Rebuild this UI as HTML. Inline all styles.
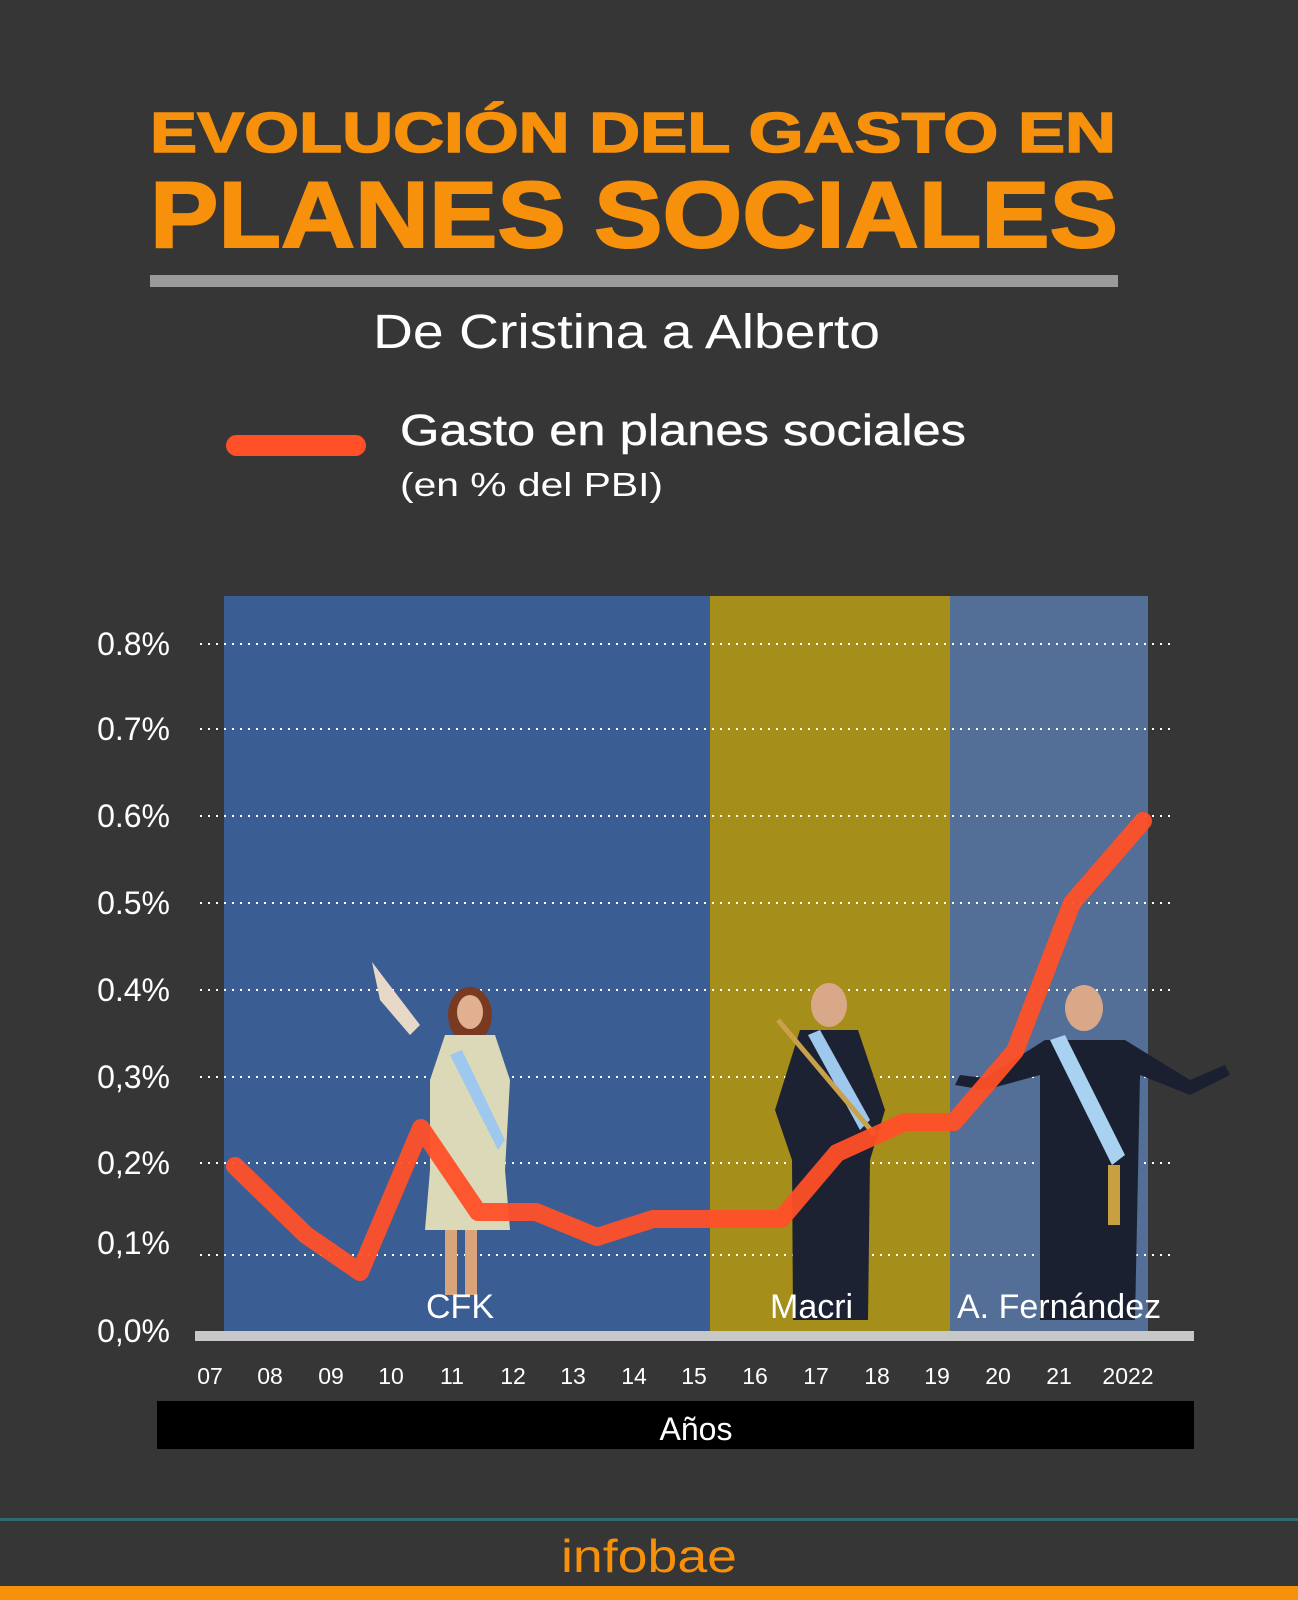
<!DOCTYPE html>
<html><head><meta charset="utf-8"><style>
html,body{margin:0;padding:0;background:#363636;}
svg{display:block;}
text{font-family:"Liberation Sans",sans-serif;}
</style></head><body>
<svg width="1298" height="1600" viewBox="0 0 1298 1600" xmlns="http://www.w3.org/2000/svg">
<rect width="1298" height="1600" fill="#363636"/>
<!-- Title -->
<text x="150" y="152" font-size="57" font-weight="bold" fill="#f7900a" stroke="#f7900a" stroke-width="1.5" textLength="966" lengthAdjust="spacingAndGlyphs">EVOLUCIÓN DEL GASTO EN</text>
<text x="150" y="247" font-size="94" font-weight="bold" fill="#f7900a" stroke="#f7900a" stroke-width="2" textLength="968" lengthAdjust="spacingAndGlyphs">PLANES SOCIALES</text>
<rect x="150" y="275" width="968" height="12" fill="#9a9a9a"/>
<text x="373" y="348" font-size="48" fill="#fff" textLength="507" lengthAdjust="spacingAndGlyphs">De Cristina a Alberto</text>
<!-- Legend -->
<rect x="226" y="435" width="140" height="21" rx="10.5" fill="#ff5028"/>
<text x="400" y="445" font-size="44" fill="#fff" stroke="#fff" stroke-width="0.4" textLength="566" lengthAdjust="spacingAndGlyphs">Gasto en planes sociales</text>
<text x="400" y="496" font-size="33" fill="#fff" textLength="263" lengthAdjust="spacingAndGlyphs">(en % del PBI)</text>
<!-- Background bands -->
<rect x="224" y="596" width="486" height="739" fill="#3a5e93"/>
<rect x="710" y="596" width="240" height="739" fill="#a68e1a"/>
<rect x="950" y="596" width="198" height="739" fill="#536e97"/>
<!-- grid -->
<g stroke="#fff" stroke-width="2" stroke-dasharray="2,6">
<line x1="200" y1="644" x2="1176" y2="644"/>
<line x1="200" y1="729" x2="1176" y2="729"/>
<line x1="200" y1="816" x2="1176" y2="816"/>
<line x1="200" y1="903" x2="1176" y2="903"/>
<line x1="200" y1="990" x2="1176" y2="990"/>
<line x1="200" y1="1077" x2="1176" y2="1077"/>
<line x1="200" y1="1163" x2="1176" y2="1163"/>
<line x1="200" y1="1255" x2="1176" y2="1255"/>
</g>
<!-- y labels -->
<g font-size="32" fill="#fff" text-anchor="end">
<text x="170" y="655">0.8%</text>
<text x="170" y="740">0.7%</text>
<text x="170" y="827">0.6%</text>
<text x="170" y="914">0.5%</text>
<text x="170" y="1001">0.4%</text>
<text x="170" y="1088">0,3%</text>
<text x="170" y="1174">0,2%</text>
<text x="170" y="1254">0,1%</text>
<text x="170" y="1342">0,0%</text>
</g>
<!-- figures (simplified) -->
<g>
<path d="M372 962 L380 1000 L410 1035 L420 1025 Z" fill="#e8d8c8"/>
<ellipse cx="470" cy="1015" rx="22" ry="28" fill="#7a3a22"/>
<ellipse cx="470" cy="1012" rx="13" ry="17" fill="#e0b090"/>
<path d="M445 1035 L495 1035 L510 1080 L505 1170 L510 1230 L425 1230 L430 1170 L430 1080 Z" fill="#dcd9b8"/>
<path d="M450 1055 L462 1050 L505 1140 L498 1150 Z" fill="#9ec8ee"/>
<rect x="445" y="1230" width="12" height="65" fill="#d9a47a"/>
<rect x="465" y="1230" width="12" height="65" fill="#d9a47a"/>
<ellipse cx="829" cy="1005" rx="18" ry="22" fill="#d8a888"/>
<path d="M800 1030 L858 1030 L885 1110 L870 1160 L868 1320 L793 1320 L792 1160 L775 1110 Z" fill="#1d2233"/>
<path d="M808 1035 L820 1030 L870 1120 L860 1130 Z" fill="#9ec8ee"/>
<line x1="778" y1="1020" x2="875" y2="1135" stroke="#c9a14a" stroke-width="5"/>
<ellipse cx="1084" cy="1008" rx="19" ry="23" fill="#d8a888"/>
<path d="M1045 1040 L1125 1040 L1190 1080 L1225 1065 L1230 1075 L1190 1095 L1140 1075 L1135 1320 L1040 1320 L1040 1075 L985 1090 L955 1085 L960 1075 L985 1078 Z" fill="#1b2030"/>
<path d="M1050 1040 L1065 1035 L1125 1155 L1112 1165 Z" fill="#a9d1f0"/>
<rect x="1108" y="1165" width="12" height="60" fill="#c9a040"/>
</g>
<!-- data line -->
<polyline points="235,1166 306,1235 360,1272 421,1128 478,1212 536,1212 597,1237 653,1219 714,1219 781,1219 837,1153 905,1122 954,1122 1015,1051 1072,903 1143,821" fill="none" stroke="#ff5028" stroke-width="18" stroke-linejoin="round" stroke-linecap="round" opacity="0.95"/>
<!-- band labels -->
<g font-size="34" fill="#fff">
<text x="426" y="1318">CFK</text>
<text x="770" y="1318">Macri</text>
<text x="957" y="1318">A. Fernández</text>
</g>
<!-- axis -->
<rect x="195" y="1331" width="999" height="10" fill="#c8c8c8"/>
<g font-size="23" fill="#fff" text-anchor="middle">
<text x="210" y="1384">07</text>
<text x="270" y="1384">08</text>
<text x="331" y="1384">09</text>
<text x="391" y="1384">10</text>
<text x="452" y="1384">11</text>
<text x="513" y="1384">12</text>
<text x="573" y="1384">13</text>
<text x="634" y="1384">14</text>
<text x="694" y="1384">15</text>
<text x="755" y="1384">16</text>
<text x="816" y="1384">17</text>
<text x="877" y="1384">18</text>
<text x="937" y="1384">19</text>
<text x="998" y="1384">20</text>
<text x="1059" y="1384">21</text>
<text x="1128" y="1384">2022</text>
</g>
<rect x="157" y="1401" width="1037" height="48" fill="#000"/>
<text x="696" y="1440" font-size="32" fill="#fff" text-anchor="middle">Años</text>
<!-- footer -->
<rect x="0" y="1518" width="1298" height="3" fill="#2f6a72"/>
<text x="649" y="1572" font-size="46" fill="#f7900a" text-anchor="middle" textLength="176" lengthAdjust="spacingAndGlyphs">infobae</text>
<rect x="0" y="1586" width="1298" height="14" fill="#f7900a"/>
</svg>
</body></html>
